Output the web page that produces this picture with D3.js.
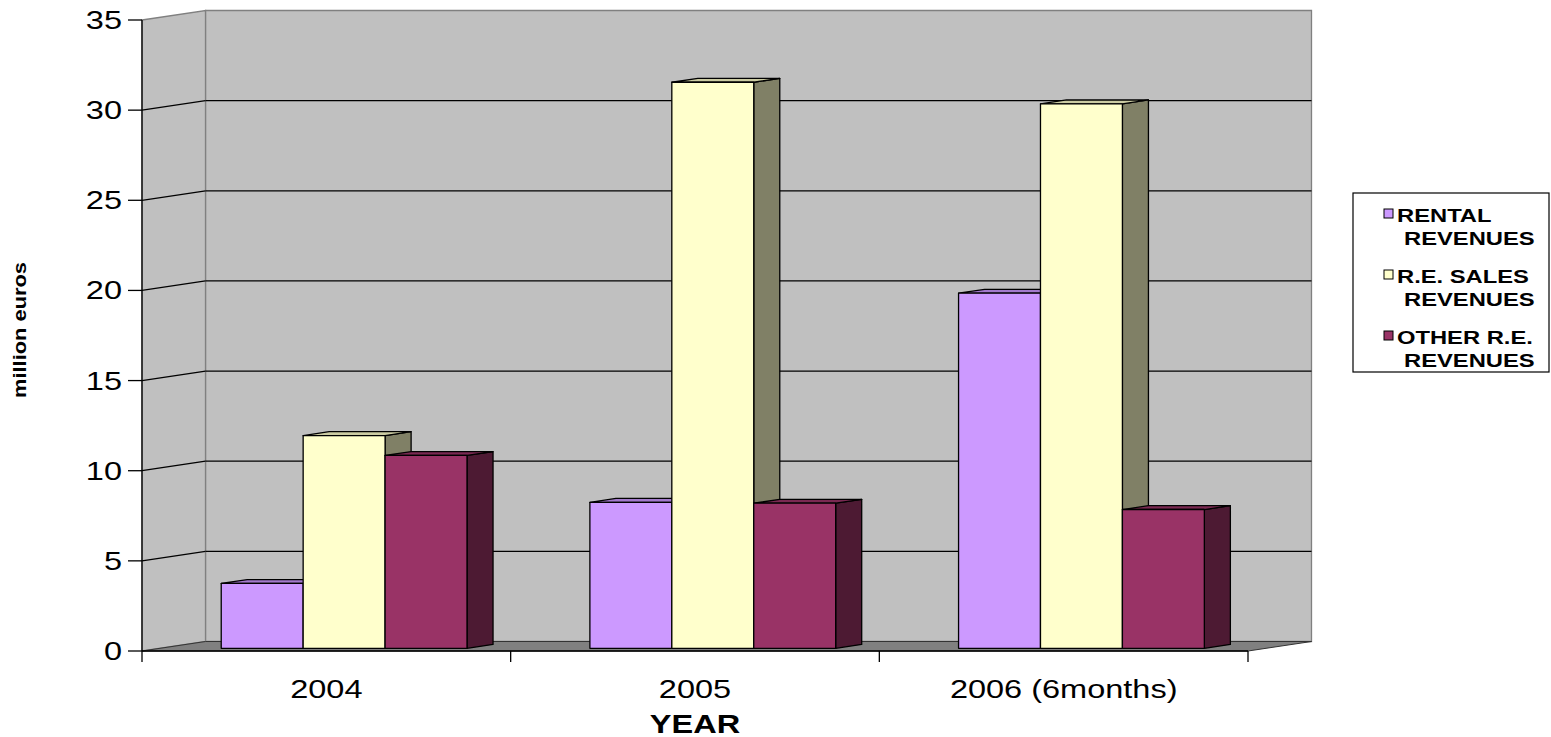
<!DOCTYPE html>
<html><head><meta charset="utf-8">
<script src="https://cdn.jsdelivr.net/npm/d3@7"></script>
<style>
body{margin:0;background:#fff}
svg{display:block}
text{font-family:"Liberation Sans",Arial,sans-serif;fill:#000}
</style>
</head><body>
<svg id="chart" width="1551" height="737"></svg>
<script>
// Revenue breakdown, million euros
const categories = ["2004", "2005", "2006 (6months)"];
const seriesNames = ["RENTAL REVENUES", "R.E. SALES REVENUES", "OTHER R.E. REVENUES"];
const legendLines = [["RENTAL", "REVENUES"], ["R.E. SALES", "REVENUES"], ["OTHER R.E.", "REVENUES"]];
const rental = [3.6, 8.1, 19.7];
const sales = [11.8, 31.4, 30.2];
const other = [10.7, 8.05, 7.7];
const yTicks = [0, 5, 10, 15, 20, 25, 30, 35];
const colors = ["#CC99FF", "#FFFFCC", "#993366"];

const series = [rental, sales, other];

const svg = d3.select("#chart");

// front plane of the 3-D box and the depth vector of the box
const pL = 142, pR = 1248, pT = 20, pB = 651;
const DX = 63.5, DY = -9.5;
const f0 = 0.28, f1 = 0.69;           // bar front / back as share of depth
const textStretch = 1.25;

const y = d3.scaleLinear().domain([0, 35]).range([pB, pT]);
const x = d3.scaleBand().domain(categories).range([pL, pR])
  .paddingInner(1 / 3).paddingOuter(1 / 6);
const xs = d3.scaleBand().domain(seriesNames).range([0, x.bandwidth()]);

const shade = (c, k) => { const r = d3.rgb(c); return d3.rgb(r.r * k, r.g * k, r.b * k).formatHex(); };
const pts = a => a.map(p => p.join(",")).join(" ");

// walls and floor
const g = svg.append("g");
g.append("polygon") // back wall
  .attr("points", pts([[pL + DX, pT + DY], [pR + DX, pT + DY], [pR + DX, pB + DY], [pL + DX, pB + DY]]))
  .attr("fill", "#C0C0C0").attr("stroke", "#808080").attr("stroke-width", 1.3);
g.append("polygon") // side wall
  .attr("points", pts([[pL, pT], [pL + DX, pT + DY], [pL + DX, pB + DY], [pL, pB]]))
  .attr("fill", "#C0C0C0").attr("stroke", "#808080").attr("stroke-width", 1.3);
g.append("polygon") // floor
  .attr("points", pts([[pL, pB], [pR, pB], [pR + DX, pB + DY], [pL + DX, pB + DY]]))
  .attr("fill", "#808080").attr("stroke", "#333").attr("stroke-width", 1);

// gridlines on both walls
const grid = yTicks.filter(t => t > 0 && t < 35);
g.selectAll("line.gb").data(grid).join("line").attr("class", "gb")
  .attr("x1", pL + DX).attr("x2", pR + DX)
  .attr("y1", d => y(d) + DY).attr("y2", d => y(d) + DY)
  .attr("stroke", "#000").attr("stroke-width", 1.2);
g.selectAll("line.gs").data(grid).join("line").attr("class", "gs")
  .attr("x1", pL).attr("x2", pL + DX)
  .attr("y1", d => y(d)).attr("y2", d => y(d) + DY)
  .attr("stroke", "#000").attr("stroke-width", 1.2);

// bars
const bx = DX * f0, by = DY * f0;
const ddx = DX * (f1 - f0), ddy = DY * (f1 - f0);
const bars = svg.append("g");
categories.forEach((cat, ci) => {
  seriesNames.forEach((s, si) => {
    const v = series[si][ci];
    const x0 = x(cat) + xs(s) + bx, x1 = x0 + xs.bandwidth();
    const yt = y(v) + by, yb = y(0) + by;
    const c = colors[si];
    const bg = bars.append("g").attr("stroke", "#000").attr("stroke-width", 1.3).attr("stroke-linejoin", "round");
    bg.append("polygon").attr("points", pts([[x1, yt], [x1 + ddx, yt + ddy], [x1 + ddx, yb + ddy], [x1, yb]]))
      .attr("fill", shade(c, 0.5));
    bg.append("polygon").attr("points", pts([[x0, yt], [x1, yt], [x1 + ddx, yt + ddy], [x0 + ddx, yt + ddy]]))
      .attr("fill", shade(c, 0.8));
    bg.append("rect").attr("x", x0).attr("y", yt).attr("width", x1 - x0).attr("height", yb - yt)
      .attr("fill", c);
  });
});

// value axis
const ax = svg.append("g");
ax.append("line").attr("x1", pL).attr("x2", pL).attr("y1", pT).attr("y2", pB)
  .attr("stroke", "#000").attr("stroke-width", 1.3);
ax.selectAll("line.t").data(yTicks).join("line").attr("class", "t")
  .attr("x1", pL - 14).attr("x2", pL).attr("y1", d => y(d)).attr("y2", d => y(d))
  .attr("stroke", "#000").attr("stroke-width", 1.3);
ax.selectAll("g.lab").data(yTicks).join("g").attr("class", "lab")
  .attr("transform", d => `translate(${pL - 20},${y(d) + 9}) scale(${textStretch},1)`)
  .append("text").attr("text-anchor", "end").attr("font-size", 26).text(d => d);

// category axis
const cx = svg.append("g");
cx.append("line").attr("x1", pL).attr("x2", pR).attr("y1", pB).attr("y2", pB)
  .attr("stroke", "#000").attr("stroke-width", 1.3);
const bounds = categories.map(c => x(c) - x.step() * x.paddingInner() / 2).concat([pR]);
bounds[0] = pL;
cx.selectAll("line.t").data(bounds).join("line").attr("class", "t")
  .attr("x1", d => d).attr("x2", d => d).attr("y1", pB).attr("y2", pB + 11)
  .attr("stroke", "#000").attr("stroke-width", 1.3);
cx.selectAll("g.lab").data(categories).join("g").attr("class", "lab")
  .attr("transform", d => `translate(${x(d) + x.bandwidth() / 2},${pB + 47}) scale(${textStretch},1)`)
  .append("text").attr("text-anchor", "middle").attr("font-size", 26).text(d => d);

// axis titles
svg.append("g").attr("transform", `translate(${(pL + pR) / 2},${pB + 82}) scale(${textStretch},1)`)
  .append("text").attr("text-anchor", "middle").attr("font-size", 26).attr("font-weight", "bold").text("YEAR");
svg.append("g").attr("transform", `translate(26,330) rotate(-90)`)
  .append("text").attr("text-anchor", "middle").attr("font-size", 18).attr("font-weight", "bold")
  .attr("textLength", 136).attr("lengthAdjust", "spacingAndGlyphs").text("million euros");

// legend
const lg = svg.append("g");
lg.append("rect").attr("x", 1353).attr("y", 193).attr("width", 196).attr("height", 179)
  .attr("fill", "#fff").attr("stroke", "#000").attr("stroke-width", 1.2);
legendLines.forEach((lines, i) => {
  const yy = 222 + i * 61;
  lg.append("rect").attr("x", 1384).attr("y", yy - 13).attr("width", 9).attr("height", 9)
    .attr("fill", colors[i]).attr("stroke", "#000").attr("stroke-width", 1);
  lines.forEach((t, j) => {
    lg.append("g").attr("transform", `translate(${1397 + j * 7},${yy + j * 22.5}) scale(1.25,1)`)
      .append("text").attr("font-size", 19).attr("font-weight", "bold").text(t);
  });
});
</script>
</body></html>
